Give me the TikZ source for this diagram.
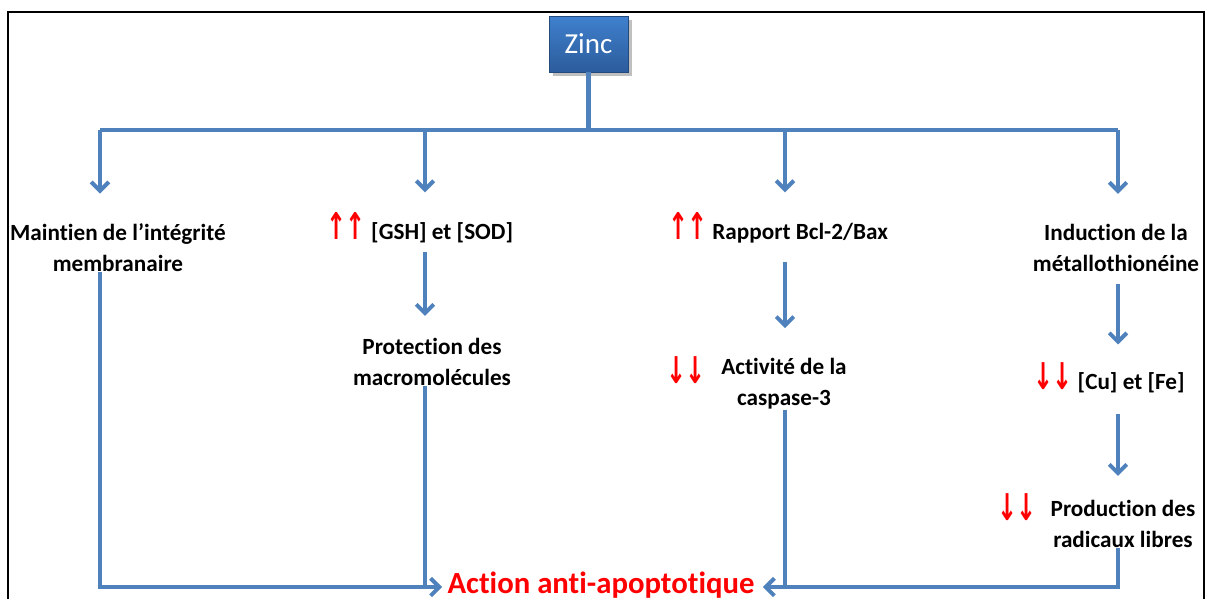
\documentclass[tikz,border=0pt]{standalone}
\usepackage{fontspec}
\setmainfont{Carlito}[Ligatures=NoCommon]
\newfontfamily\arrowfont{DejaVu Sans}
\usetikzlibrary{arrows.meta,shadows}
\definecolor{linkblue}{HTML}{4F81BD}
\definecolor{zinctop}{HTML}{3F80CD}
\definecolor{zincbot}{HTML}{2C5C9C}
\newcommand{\upup}{{\arrowfont\bfseries\fontsize{21}{21}\selectfont\color{red}\scalebox{0.65}[1]{↑\kern-1pt↑}}}
\newcommand{\dndn}{{\arrowfont\bfseries\fontsize{21}{21}\selectfont\color{red}\scalebox{0.65}[1]{↓\kern-1pt↓}}}
\begin{document}
\begin{tikzpicture}[x=0.02cm,y=-0.02cm,
    txt/.style={inner sep=0pt,align=center,font=\bfseries\fontsize{13.2}{17.6}\selectfont},
    link/.style={draw=linkblue,line width=2.3pt,line join=miter},
    arr/.style={link,-{Straight Barb[length=5pt,width=10pt]}}]
      \useasboundingbox (0,0) rectangle (1205,599);
      \draw[line width=1.1pt] (8,640) -- (8,12) -- (1204,12) -- (1204,640);

      \node[draw=zincbot!80!black,top color=zinctop,bottom color=zincbot,drop shadow,
        minimum width=1.58cm,minimum height=1.12cm,text=white,
        font=\fontsize{16.5}{16.5}\selectfont] (zinc) at (588.5,44) {Zinc};

      \coordinate (j1) at (100,130);
      \coordinate (j2) at (425,130);
      \coordinate (j3) at (785,130);
      \coordinate (j4) at (1118,130);

      \node[txt] (mem) at (118,248) {Maintien de l’intégrité\\membranaire};
      \node[txt] (gsh) at (420,228) {\upup\ [GSH] et [SOD]};
      \node[txt] (bcl) at (778,228) {\upup\ Rapport Bcl-2/Bax};
      \node[txt] (ind) at (1116,248) {Induction de la\\métallothionéine};

      \node[txt] (prot) at (432,362) {Protection des\\macromolécules};
      \node[txt] (casp) at (784,384) {Activité de la\\caspase-3};
      \node[inner sep=0pt] (caspdn) at (686,370) {\dndn};
      \node[txt] (cufe) at (1109,378) {\dndn\ [Cu] et [Fe]};
      \node[txt] (rad) at (1123,524) {Production des\\radicaux libres};
      \node[inner sep=0pt] (raddn) at (1017,507) {\dndn};

      \node[inner sep=0pt,text=red,font=\bfseries\fontsize{17.5}{17.5}\selectfont]
        (act) at (601,585) {Action anti-apoptotique};

      % Zinc vers les quatre effets
      \draw[link] (zinc.south) -- (zinc.south |- j1);
      \draw[link] (j1) -- (j4);
      \draw[arr,shorten >=30*0.02cm] (j1) -- (j1 |- mem.north);
      \draw[arr,shorten >=20*0.02cm] (j2) -- (j2 |- gsh.north);
      \draw[arr,shorten >=20*0.02cm] (j3) -- (j3 |- bcl.north);
      \draw[arr,shorten >=30*0.02cm] (j4) -- (j4 |- ind.north);

      % chaines verticales
      \draw[arr,shorten <=8*0.02cm,shorten >=22*0.02cm] (gsh.south -| j2) -- (prot.north -| j2);
      \draw[arr,shorten <=18*0.02cm,shorten >=30*0.02cm] (bcl.south -| j3) -- (casp.north -| j3);
      \draw[arr,shorten <=12*0.02cm,shorten >=18*0.02cm] (ind.south -| j4) -- (cufe.north -| j4);
      \draw[arr,shorten <=20*0.02cm,shorten >=24*0.02cm] (cufe.south -| j4) -- (rad.north -| j4);

      % vers l'action anti-apoptotique
      \draw[arr,shorten >=5*0.02cm] (mem.south -| j1) -- ([yshift=-2*0.02cm]j1 |- act.west) -- ([yshift=-2*0.02cm]act.west);
      \draw[link] (prot.south -| j2) -- ([yshift=-2*0.02cm]j2 |- act.west);
      \draw[link] (casp.south -| j3) -- ([yshift=-2*0.02cm]j3 |- act.east);
      \draw[arr,shorten >=8*0.02cm] (rad.south -| j4) -- ([yshift=-2*0.02cm]j4 |- act.east) -- ([yshift=-2*0.02cm]act.east);
\end{tikzpicture}
\end{document}
